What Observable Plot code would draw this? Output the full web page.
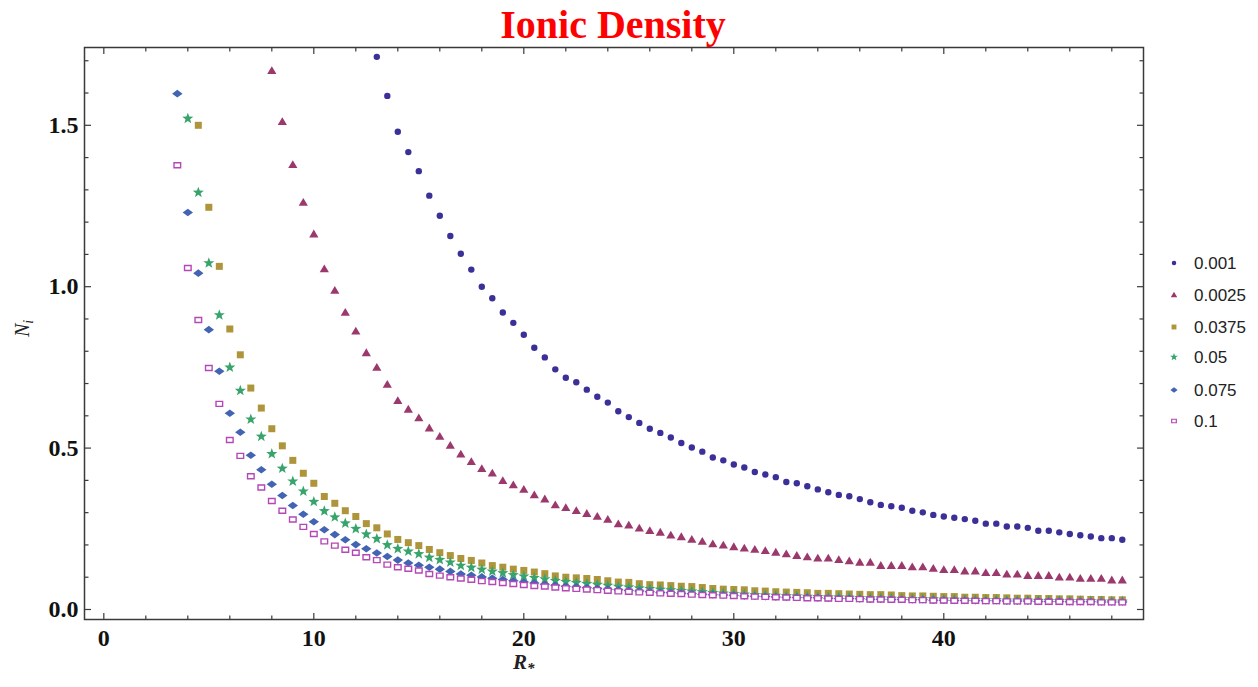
<!DOCTYPE html>
<html>
<head>
<meta charset="utf-8">
<script src="https://cdn.jsdelivr.net/npm/d3@7"></script>
<script src="https://cdn.jsdelivr.net/npm/@observablehq/plot@0.6"></script>
<style>
  body { margin: 0; background: #fff; }
  #wrap { position: relative; width: 1258px; height: 687px; overflow: hidden; }
  #wrap > svg, #wrap > figure { position: absolute; left: 0; top: 0; margin: 0; }
</style>
</head>
<body>
<div id="wrap"></div>
<script>
// ---------- data ----------
const seriesLabels = ["0.001", "0.0025", "0.0375", "0.05", "0.075", "0.1"];
const xGrid = [3.5,4,4.5,5,5.5,6,6.5,7,7.5,8,8.5,9,9.5,10,10.5,11,11.5,12,12.5,13,13.5,14,14.5,15,15.5,16,16.5,17,17.5,18,18.5,19,19.5,20,20.5,21,21.5,22,22.5,23,23.5,24,24.5,25,25.5,26,26.5,27,27.5,28,28.5,29,29.5,30,30.5,31,31.5,32,32.5,33,33.5,34,34.5,35,35.5,36,36.5,37,37.5,38,38.5,39,39.5,40,40.5,41,41.5,42,42.5,43,43.5,44,44.5,45,45.5,46,46.5,47,47.5,48,48.5];
const xStart = [13, 8, 4.5, 4, 3.5, 3.5];

const n0001 = [1.712,1.591,1.480,1.417,1.358,1.282,1.220,1.157,1.102,1.053,
  1.000,0.964,0.920,0.888,0.851,0.811,0.781,0.744,0.718,0.704,
  0.681,0.659,0.641,0.614,0.596,0.578,0.560,0.547,0.533,0.516,
  0.502,0.489,0.471,0.462,0.449,0.440,0.426,0.418,0.410,0.395,
  0.391,0.382,0.372,0.363,0.355,0.351,0.342,0.332,0.324,0.320,
  0.315,0.306,0.301,0.293,0.288,0.284,0.280,0.275,0.266,0.266,
  0.257,0.257,0.253,0.244,0.244,0.239,0.234,0.230,0.226,0.221,
  0.221,0.216];
const n0025 = [1.669,1.511,1.378,1.261,1.163,1.055,0.988,0.920,0.862,0.795,
  0.750,0.697,0.647,0.620,0.593,0.562,0.536,0.508,0.481,0.458,
  0.436,0.422,0.399,0.386,0.372,0.355,0.342,0.324,0.315,0.306,
  0.297,0.288,0.279,0.265,0.261,0.252,0.244,0.239,0.230,0.225,
  0.217,0.211,0.203,0.199,0.194,0.190,0.186,0.182,0.177,0.172,
  0.167,0.163,0.159,0.159,0.154,0.150,0.146,0.146,0.136,0.136,
  0.136,0.132,0.132,0.127,0.123,0.123,0.119,0.119,0.114,0.114,
  0.109,0.109,0.105,0.105,0.105,0.100,0.100,0.096,0.096,0.096,
  0.091,0.091];
const n0375 = [1.500,1.246,1.063,0.869,0.789,0.686,0.624,0.560,0.507,0.462,
  0.422,0.391,0.350,0.329,0.306,0.288,0.266,0.253,0.234,0.217,
  0.207,0.198,0.186,0.176,0.167,0.158,0.152,0.144,0.136,0.131,
  0.125,0.121,0.116,0.111,0.104,0.100,0.098,0.096,0.093,0.089,
  0.085,0.084,0.080,0.077,0.076,0.074,0.072,0.071,0.068,0.065,
  0.063,0.062,0.061,0.058,0.057,0.055,0.054,0.053,0.052,0.050,
  0.050,0.049,0.048,0.047,0.046,0.046,0.045,0.043,0.042,0.042,
  0.041,0.040,0.040,0.038,0.038,0.037,0.037,0.036,0.035,0.035,
  0.034,0.034,0.033,0.033,0.032,0.031,0.031,0.030,0.030];
const n05 = [1.521,1.292,1.073,0.912,0.750,0.678,0.589,0.536,0.482,0.437,
  0.397,0.366,0.334,0.305,0.286,0.267,0.250,0.233,0.219,0.200,
  0.188,0.180,0.172,0.161,0.154,0.146,0.136,0.130,0.124,0.118,
  0.113,0.107,0.103,0.098,0.094,0.089,0.086,0.083,0.080,0.077,
  0.074,0.071,0.069,0.066,0.064,0.062,0.060,0.058,0.056,0.054,
  0.052,0.050,0.049,0.047,0.045,0.044,0.043,0.042,0.041,0.040,
  0.039,0.038,0.038,0.037,0.036,0.035,0.035,0.034,0.033,0.033,
  0.032,0.032,0.031,0.031,0.030,0.030,0.029,0.029,0.028,0.028,
  0.028,0.027,0.027,0.027,0.026,0.026,0.026,0.025,0.025,0.025];
const n075 = [1.598,1.230,1.042,0.867,0.738,0.608,0.549,0.478,0.433,0.388,
  0.353,0.322,0.295,0.272,0.247,0.232,0.216,0.201,0.188,0.175,
  0.164,0.153,0.144,0.137,0.131,0.125,0.118,0.110,0.106,0.101,
  0.097,0.093,0.089,0.085,0.082,0.078,0.075,0.072,0.070,0.067,
  0.065,0.063,0.061,0.059,0.057,0.055,0.053,0.052,0.050,0.049,
  0.047,0.046,0.045,0.044,0.042,0.041,0.040,0.039,0.038,0.037,
  0.037,0.036,0.035,0.034,0.034,0.033,0.032,0.032,0.031,0.031,
  0.030,0.030,0.029,0.029,0.028,0.028,0.027,0.027,0.027,0.026,
  0.026,0.026,0.025,0.025,0.025,0.024,0.024,0.024,0.023,0.023,
  0.023];
const n1 = [1.376,1.058,0.897,0.748,0.637,0.525,0.476,0.413,0.378,0.336,
  0.306,0.279,0.256,0.234,0.211,0.198,0.185,0.176,0.162,0.153,
  0.139,0.131,0.126,0.121,0.110,0.105,0.100,0.096,0.092,0.088,
  0.085,0.082,0.079,0.076,0.073,0.071,0.068,0.066,0.064,0.062,
  0.060,0.058,0.056,0.055,0.053,0.052,0.050,0.049,0.048,0.046,
  0.045,0.044,0.043,0.042,0.041,0.040,0.039,0.038,0.037,0.036,
  0.035,0.035,0.034,0.033,0.033,0.032,0.031,0.031,0.030,0.030,
  0.029,0.029,0.028,0.028,0.027,0.027,0.027,0.026,0.026,0.025,
  0.025,0.025,0.024,0.024,0.024,0.023,0.023,0.023,0.022,0.022,
  0.022];
const seriesValues = [n0001, n0025, n0375, n05, n075, n1];

const xMajor = [0, 10, 20, 30, 40];
const xMinor = [2,4,6,8,12,14,16,18,22,24,26,28,32,34,36,38,42,44,46,48];
const yMajor = [0, 0.5, 1.0, 1.5];
const yMinor = [0.1,0.2,0.3,0.4,0.6,0.7,0.8,0.9,1.1,1.2,1.3,1.4,1.6,1.7];

// ---------- styles ----------
const colors = ["#3b2f98", "#9b386c", "#ae953b", "#38a46c", "#4264b2", "#b348b6"];
function mkStar(ro, ri) {
  return {draw(c) {
    for (let i = 0; i < 10; i++) {
      const r = i % 2 ? ri : ro, a = -Math.PI / 2 + i * Math.PI / 5;
      const px = r * Math.cos(a), py = r * Math.sin(a);
      i ? c.lineTo(px, py) : c.moveTo(px, py);
    }
    c.closePath();
  }};
}
function mkSymbols(s) {
  return [
    {draw(c) { c.moveTo(3.2 * s, 0); c.arc(0, 0, 3.2 * s, 0, 2 * Math.PI); }},
    {draw(c) { c.moveTo(0, -4.5 * s); c.lineTo(4.6 * s, 3.3 * s); c.lineTo(-4.6 * s, 3.3 * s); c.closePath(); }},
    {draw(c) { c.rect(-3.5 * s, -3.5 * s, 7 * s, 7 * s); }},
    mkStar(5.8 * s, 2.4 * s),
    {draw(c) { c.moveTo(-5.2 * s, 0); c.lineTo(0, -3.8 * s); c.lineTo(5.2 * s, 0); c.lineTo(0, 3.8 * s); c.closePath(); }},
    {draw(c) { c.rect(-3.3 * s, -2.5 * s, 6.6 * s, 5 * s); }}
  ];
}
const plotSymbols = mkSymbols(1);
const hollow = [false, false, false, false, false, true];

const rows = seriesValues.map((vals, k) => {
  const i0 = xGrid.indexOf(xStart[k]);
  return vals.map((v, i) => ({x: xGrid[i0 + i], y: v, k}));
});

const dotMarks = rows.map((r, k) => Plot.dot(r, {
  x: "x", y: "y",
  symbol: plotSymbols[k],
  fill: hollow[k] ? "white" : colors[k],
  stroke: hollow[k] ? colors[k] : "none",
  strokeWidth: hollow[k] ? 1.4 : 0
}));

const frameColor = "#3a3a3a";
const tickFont = {fontWeight: "bold", fontSize: 24, fill: "#111"};
const plot = Plot.plot({
  width: 1258, height: 687,
  marginLeft: 84, marginRight: 115, marginTop: 47, marginBottom: 68,
  x: {domain: [-0.92, 49.51], axis: null},
  y: {domain: [-0.031, 1.741], axis: null},
  style: {background: "transparent", fontFamily: "'Liberation Serif', serif", fontSize: "24px", color: "#000", overflow: "visible"},
  marks: [
    ...dotMarks,
    Plot.axisX(xMajor, {anchor: "bottom", tickSize: -6, tickPadding: 15, stroke: frameColor, strokeWidth: 1.2, label: null, tickFormat: d3.format("d"), ...tickFont}),
    Plot.axisX(xMinor, {anchor: "bottom", tickSize: -3.5, stroke: frameColor, strokeWidth: 1.2, fill: "none", label: null}),
    Plot.axisX(xMajor, {anchor: "top", tickSize: -6, stroke: frameColor, strokeWidth: 1.2, fill: "none", label: null}),
    Plot.axisX(xMinor, {anchor: "top", tickSize: -3.5, stroke: frameColor, strokeWidth: 1.2, fill: "none", label: null}),
    Plot.axisY(yMajor, {anchor: "left", tickSize: -7, tickPadding: 13, stroke: frameColor, strokeWidth: 1.2, label: null, tickFormat: d3.format(".1f"), ...tickFont}),
    Plot.axisY(yMinor, {anchor: "left", tickSize: -4.5, stroke: frameColor, strokeWidth: 1.2, fill: "none", label: null}),
    Plot.axisY(yMajor, {anchor: "right", tickSize: -7, stroke: frameColor, strokeWidth: 1.2, fill: "none", label: null}),
    Plot.axisY(yMinor, {anchor: "right", tickSize: -4.5, stroke: frameColor, strokeWidth: 1.2, fill: "none", label: null}),
    Plot.frame({stroke: frameColor, strokeWidth: 1.5})
  ]
});
const wrap = document.getElementById("wrap");
wrap.appendChild(plot);

// ---------- overlay: title, axis titles, legend ----------
const ov = d3.select(wrap).append("svg")
  .attr("width", 1258).attr("height", 687)
  .style("position", "absolute").style("left", 0).style("top", 0);

ov.append("text")
  .attr("x", 613).attr("y", 38)
  .attr("text-anchor", "middle")
  .attr("font-family", "'Liberation Serif', serif")
  .attr("font-weight", "bold").attr("font-size", 40)
  .attr("fill", "#ff0000")
  .text("Ionic Density");

const xl = ov.append("text")
  .attr("x", 513).attr("y", 669)
  .attr("font-family", "'Liberation Serif', serif")
  .attr("font-style", "italic").attr("font-weight", "bold")
  .attr("font-size", 21).attr("fill", "#222");
xl.append("tspan").text("R");
xl.append("tspan").attr("font-size", 15).attr("dy", 4).text("*");

const yl = ov.append("text")
  .attr("transform", "translate(29,337) rotate(-90)")
  .attr("font-family", "'Liberation Serif', serif")
  .attr("font-style", "italic")
  .attr("font-size", 20).attr("fill", "#222");
yl.append("tspan").text("N");
yl.append("tspan").attr("font-size", 14).attr("dy", 4).text("i");

const legendY = [263, 295, 327, 357, 390, 421];
const legendSymbols = mkSymbols(0.7);
seriesLabels.forEach((lab, k) => {
  const g = ov.append("g").attr("transform", `translate(1174,${legendY[k]})`);
  g.append("path")
    .attr("d", d3.symbol(legendSymbols[k])())
    .attr("fill", hollow[k] ? "white" : colors[k])
    .attr("stroke", hollow[k] ? colors[k] : "none")
    .attr("stroke-width", hollow[k] ? 1.2 : 0);
  g.append("text")
    .attr("x", 20).attr("y", 0).attr("dy", "0.35em")
    .attr("font-family", "'Liberation Sans', sans-serif")
    .attr("font-size", 17).attr("fill", "#222")
    .text(lab);
});
</script>
</body>
</html>
